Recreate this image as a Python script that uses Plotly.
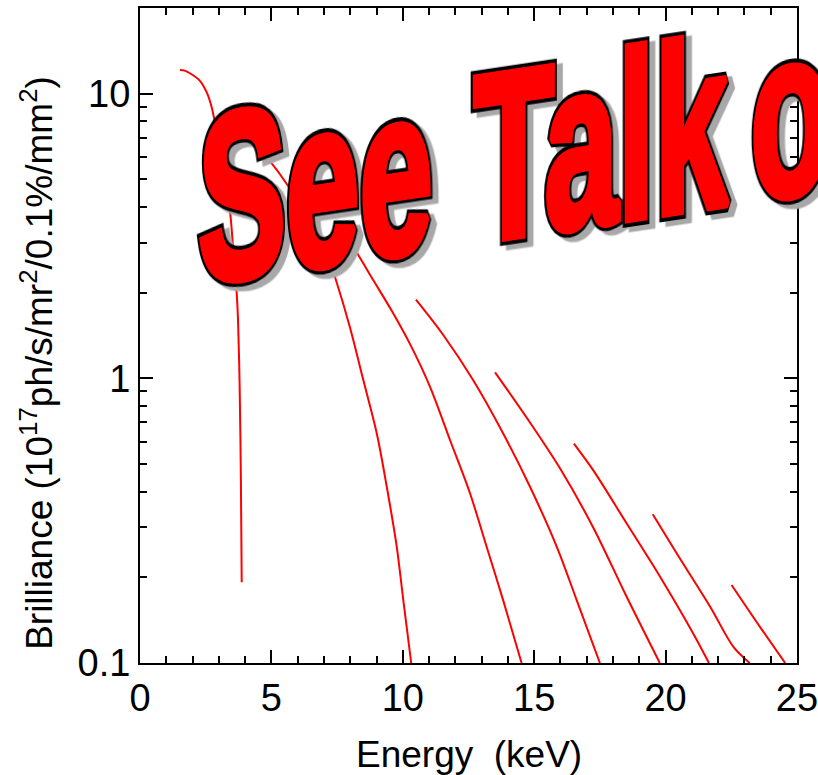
import math
import plotly.graph_objects as go

# ---- data (Energy in keV, Brilliance in 1e17 units) ----
energy_h1 = [1.52, 1.70, 1.90, 2.28, 2.54, 2.73, 2.85, 3.42, 3.54, 3.68, 3.73, 3.79, 3.84, 3.87]
brill_h1 = [12.1, 12.05, 11.8, 11.1, 10.1, 8.95, 7.92, 3.88, 2.88, 1.99, 1.60, 0.96, 0.43, 0.192]

energy_h3 = [4.60, 4.87, 5.63, 6.58, 7.04, 7.42, 7.99, 8.50, 9.01, 9.39, 9.77, 10.02, 10.32]
brill_h3 = [6.3, 5.91, 4.75, 3.39, 2.88, 2.27, 1.51, 0.984, 0.640, 0.416, 0.256, 0.166, 0.10]

energy_h5 = [7.55, 8.12, 8.88, 9.59, 10.31, 11.04, 11.80, 12.56, 13.19, 13.82, 14.52]
brill_h5 = [3.44, 2.89, 2.21, 1.72, 1.30, 0.932, 0.606, 0.394, 0.256, 0.166, 0.10]

energy_h7 = [10.50, 11.54, 12.68, 13.82, 14.84, 15.86, 16.62, 17.50]
brill_h7 = [1.89, 1.42, 0.984, 0.640, 0.416, 0.256, 0.166, 0.10]

energy_h9 = [13.51, 14.73, 15.98, 17.24, 18.49, 19.78]
brill_h9 = [1.05, 0.724, 0.483, 0.300, 0.173, 0.10]

energy_h11 = [16.51, 17.25, 18.52, 19.79, 21.05, 21.65]
brill_h11 = [0.590, 0.475, 0.309, 0.201, 0.127, 0.10]

energy_h13 = [19.51, 20.42, 21.69, 22.58, 23.20]
brill_h13 = [0.333, 0.243, 0.158, 0.114, 0.10]

energy_h15 = [22.51, 23.59, 24.55]
brill_h15 = [0.188, 0.134, 0.10]

x_tick_vals = [0, 5, 10, 15, 20, 25]
y_tick_vals = [0.1, 1, 10]
y_tick_text = ["0.1", "1", "10"]
y_minor_vals = [0.2, 0.3, 0.4, 0.5, 0.6, 0.7, 0.8, 0.9, 2, 3, 4, 5, 6, 7, 8, 9, 20]

x_title = "Energy\u00a0\u00a0(keV)"
y_title = "Brilliance (10<sup>17</sup>ph/s/mr<sup>2</sup>/0.1%/mm<sup>2</sup>)"
banner_text = "See Talk on"

series = [
    (energy_h1, brill_h1), (energy_h3, brill_h3), (energy_h5, brill_h5),
    (energy_h7, brill_h7), (energy_h9, brill_h9), (energy_h11, brill_h11),
    (energy_h13, brill_h13), (energy_h15, brill_h15),
]

FONT = "Liberation Sans, Arial, sans-serif"

fig = go.Figure()
for ex, by in series:
    fig.add_trace(go.Scatter(
        x=ex, y=by, mode="lines",
        line=dict(color="#ff0000", width=2, shape="spline", smoothing=0.9),
        showlegend=False, hoverinfo="skip",
    ))

fig.update_layout(
    width=818, height=775,
    margin=dict(l=140, r=21, t=8, b=112, autoexpand=False),
    paper_bgcolor="white", plot_bgcolor="white",
    font=dict(family=FONT, color="black"),
)

fig.update_xaxes(
    range=[0, 25], tickmode="array", tickvals=x_tick_vals, automargin=False,
    ticklabeloverflow="allow",
    ticks="inside", ticklen=13, tickwidth=2, tickcolor="black",
    showline=True, linewidth=2, linecolor="black", mirror="ticks",
    showgrid=False, zeroline=False,
    tickfont=dict(size=38, family=FONT, color="black"),
    minor=dict(tickmode="linear", tick0=0, dtick=1, ticks="inside",
               ticklen=7, tickwidth=2, tickcolor="black", showgrid=False),
)
fig.update_yaxes(
    type="log", range=[-1, math.log10(20)], automargin=False,
    ticklabeloverflow="allow",
    tickmode="array", tickvals=y_tick_vals, ticktext=y_tick_text,
    ticks="inside", ticklen=13, tickwidth=2, tickcolor="black",
    showline=True, linewidth=2, linecolor="black", mirror="ticks",
    showgrid=False, zeroline=False,
    tickfont=dict(size=38, family=FONT, color="black"),
    minor=dict(tickmode="array", tickvals=y_minor_vals, ticks="inside",
               ticklen=7, tickwidth=2, tickcolor="black", showgrid=False),
)

fig.add_annotation(
    text=x_title, xref="paper", yref="paper", x=0.5, y=-0.1395,
    xanchor="center", yanchor="middle", showarrow=False,
    font=dict(size=37, family=FONT, color="black"), borderpad=0,
)
fig.add_annotation(
    text=y_title, xref="paper", yref="paper", x=-0.157, y=0.458,
    xanchor="center", yanchor="middle", showarrow=False, textangle=-90,
    font=dict(size=37, family=FONT, color="black"), borderpad=0,
)
fig.add_annotation(
    text=banner_text, xref="paper", yref="paper", x=0.0868, y=0.705,
    xanchor="left", yanchor="middle", align="left", showarrow=False,
    font=dict(size=132, family=FONT, color="#ff0000", weight="bold"),
    borderpad=0,
)

post = """
var gd = document.getElementById('{plot_id}');
document.body.style.margin = '0';
var ts = gd.querySelectorAll('text.annotation-text');
ts.forEach(function(t){
  if (t.textContent.indexOf('See') === 0) {
    t.setAttribute('dx', '0 0 0 0 4 0 0 0 0 -14');
    t.style.transformBox = 'fill-box';
    t.style.transformOrigin = '0% 50%';
    t.style.transform = 'skewY(-8.5deg) scaleY(1.80)';
    t.style.strokeLinejoin = 'miter';
    t.style.strokeMiterlimit = '1.5';
    var back = t.cloneNode(true);
    back.style.stroke = '#000000';
    back.style.strokeWidth = '8.5px';
    back.style.filter = 'drop-shadow(6px 3px 0px #a8a8a8)';
    t.parentNode.insertBefore(back, t);
    t.style.stroke = '#ff0000';
    t.style.strokeWidth = '4.5px';
  }
});
"""

fig.write_html("out.html", post_script=post, config={"displayModeBar": False})
